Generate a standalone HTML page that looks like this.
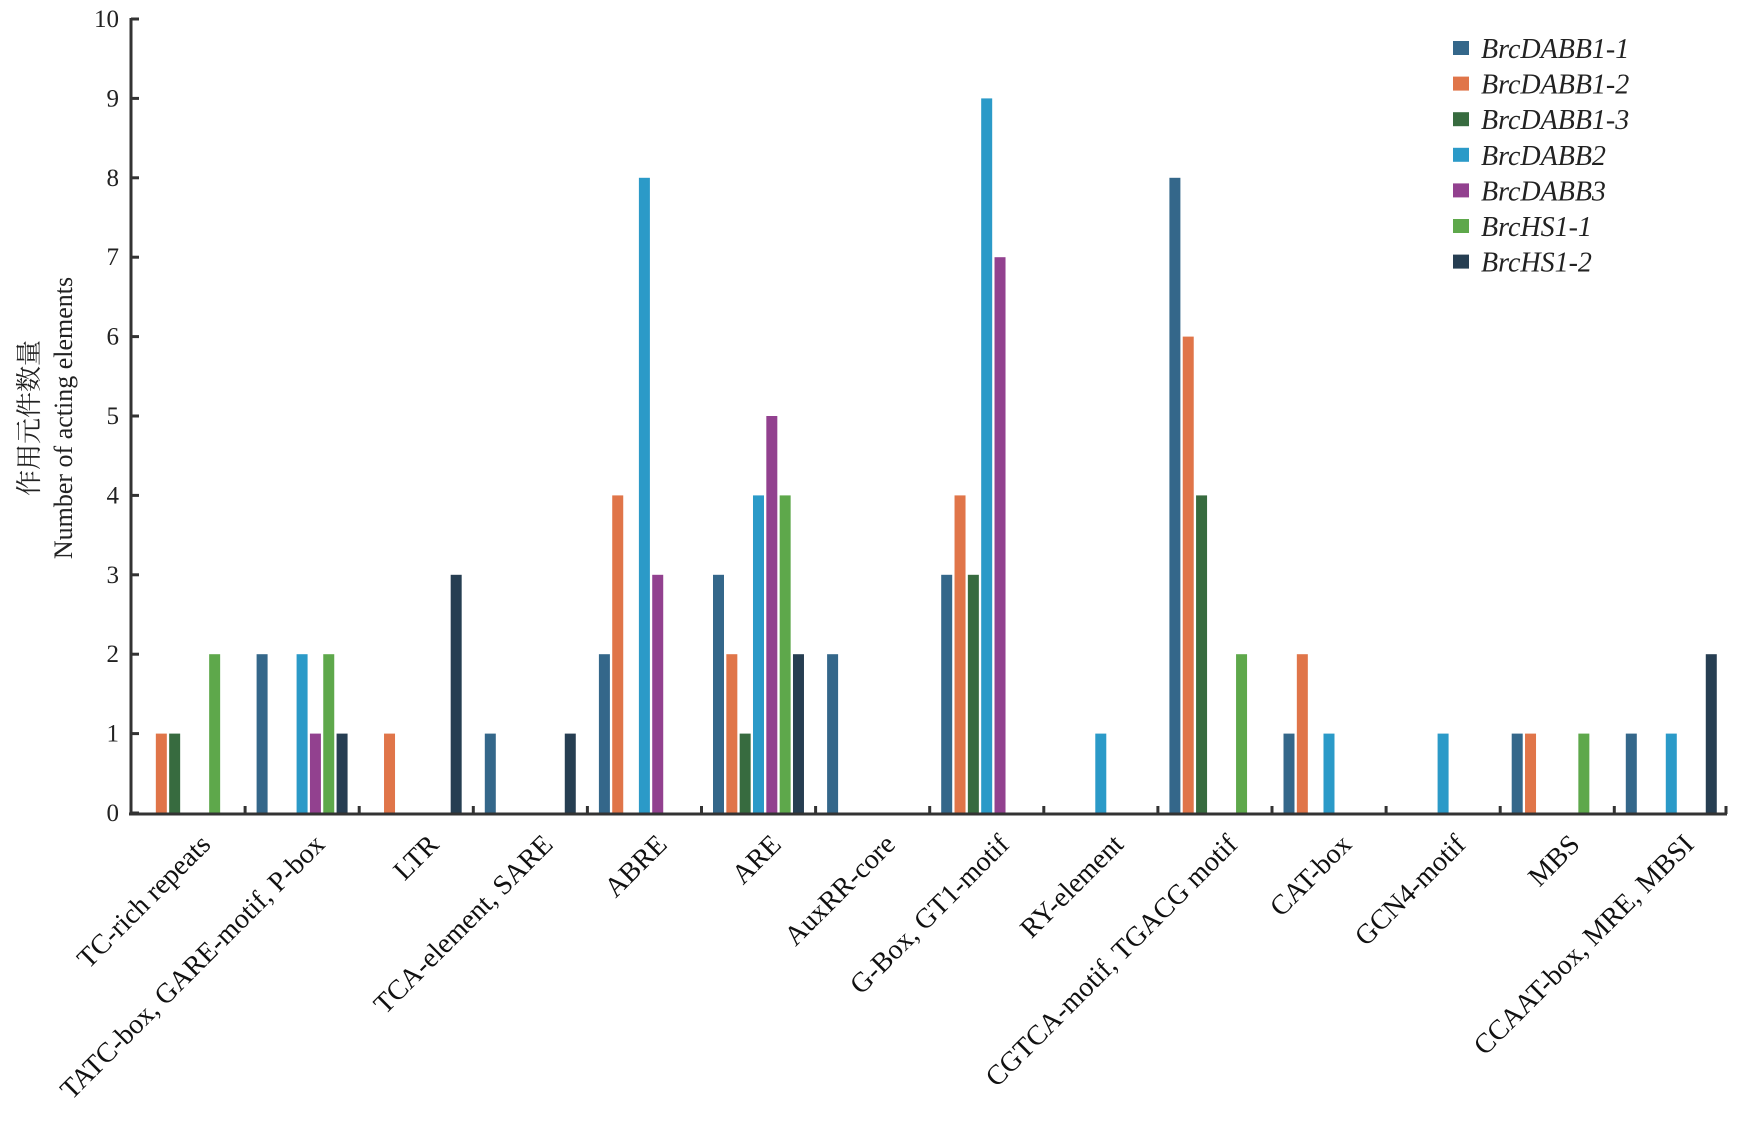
<!DOCTYPE html>
<html><head><meta charset="utf-8"><style>html,body{margin:0;padding:0;background:#fff}svg{display:block}</style></head>
<body>
<svg width="1742" height="1139" xmlns="http://www.w3.org/2000/svg" font-family="'Liberation Serif','Noto Serif CJK SC',serif">
<g id="bars"></g>
<line x1="131" y1="18" x2="131" y2="815" stroke="#333" stroke-width="3"/>
<line x1="129" y1="814" x2="1727" y2="814" stroke="#333" stroke-width="3"/>
<g id="yt" font-size="25" fill="#222" text-anchor="end"></g>
<g id="xt" font-size="28" fill="#111" text-anchor="end"></g>
<g id="leg" font-size="28" font-style="italic" fill="#222"></g>
<text transform="translate(38,418) rotate(-90)" font-size="26" text-anchor="middle" fill="#222">作用元件数量</text>
<text transform="translate(72,418) rotate(-90)" font-size="26" text-anchor="middle" fill="#222">Number of acting elements</text>
</svg>
<script>
const ns="http://www.w3.org/2000/svg";
function el(t,a,p,txt){const e=document.createElementNS(ns,t);for(const k in a)e.setAttribute(k,a[k]);if(txt!==undefined)e.textContent=txt;p.appendChild(e);return e;}
const cols=["#34678a","#e07549","#376b3f","#2b9ac8","#92418f","#5ea84b","#263e52"];
const names=["BrcDABB1-1","BrcDABB1-2","BrcDABB1-3","BrcDABB2","BrcDABB3","BrcHS1-1","BrcHS1-2"];
const cats=["TC-rich repeats","TATC-box, GARE-motif, P-box","LTR","TCA-element, SARE","ABRE","ARE","AuxRR-core","G-Box, GT1-motif","RY-element","CGTCA-motif, TGACG motif","CAT-box","GCN4-motif","MBS","CCAAT-box, MRE, MBSI"];
const data=[[0,1,1,0,0,2,0],[2,0,0,2,1,2,1],[0,1,0,0,0,0,3],[1,0,0,0,0,0,1],[2,4,0,8,3,0,0],[3,2,1,4,5,4,2],[2,0,0,0,0,0,0],[3,4,3,9,7,0,0],[0,0,0,1,0,0,0],[8,6,4,0,0,2,0],[1,2,0,1,0,0,0],[0,0,0,1,0,0,0],[1,1,0,0,0,1,0],[1,0,0,1,0,0,2]];
const y0=813,unit=79.4,gw=114.1,x0=131;
const bars=document.getElementById("bars"),yt=document.getElementById("yt"),xt=document.getElementById("xt"),leg=document.getElementById("leg");
const svg=document.querySelector("svg");
data.forEach((g,i)=>{
  g.forEach((v,j)=>{ if(!v)return; const cx=148+gw*i+13.33*j; el("rect",{x:cx-5.5,y:y0-v*unit,width:11,height:v*unit,fill:cols[j]},bars);});
  if(i>0) el("line",{x1:x0+gw*i,y1:814,x2:x0+gw*i,y2:806,stroke:"#333","stroke-width":3},svg);
  const c=x0+gw*i+gw/2+24;
  el("text",{transform:`translate(${c},${846}) rotate(-45)`},xt,cats[i]);
});
el("line",{x1:1726,y1:814,x2:1726,y2:806,stroke:"#333","stroke-width":3},svg);
for(let k=0;k<=10;k++){const y=y0-k*unit;el("text",{x:119,y:y+8},yt,k);el("line",{x1:131,y1:y,x2:139,y2:y,stroke:"#333","stroke-width":3},svg);}
names.forEach((n,j)=>{const y=48+35.6*j;el("rect",{x:1453,y:y-7,width:16,height:14,fill:cols[j]},leg);el("text",{x:1481,y:y+10},leg,n);});
</script>
</body></html>
